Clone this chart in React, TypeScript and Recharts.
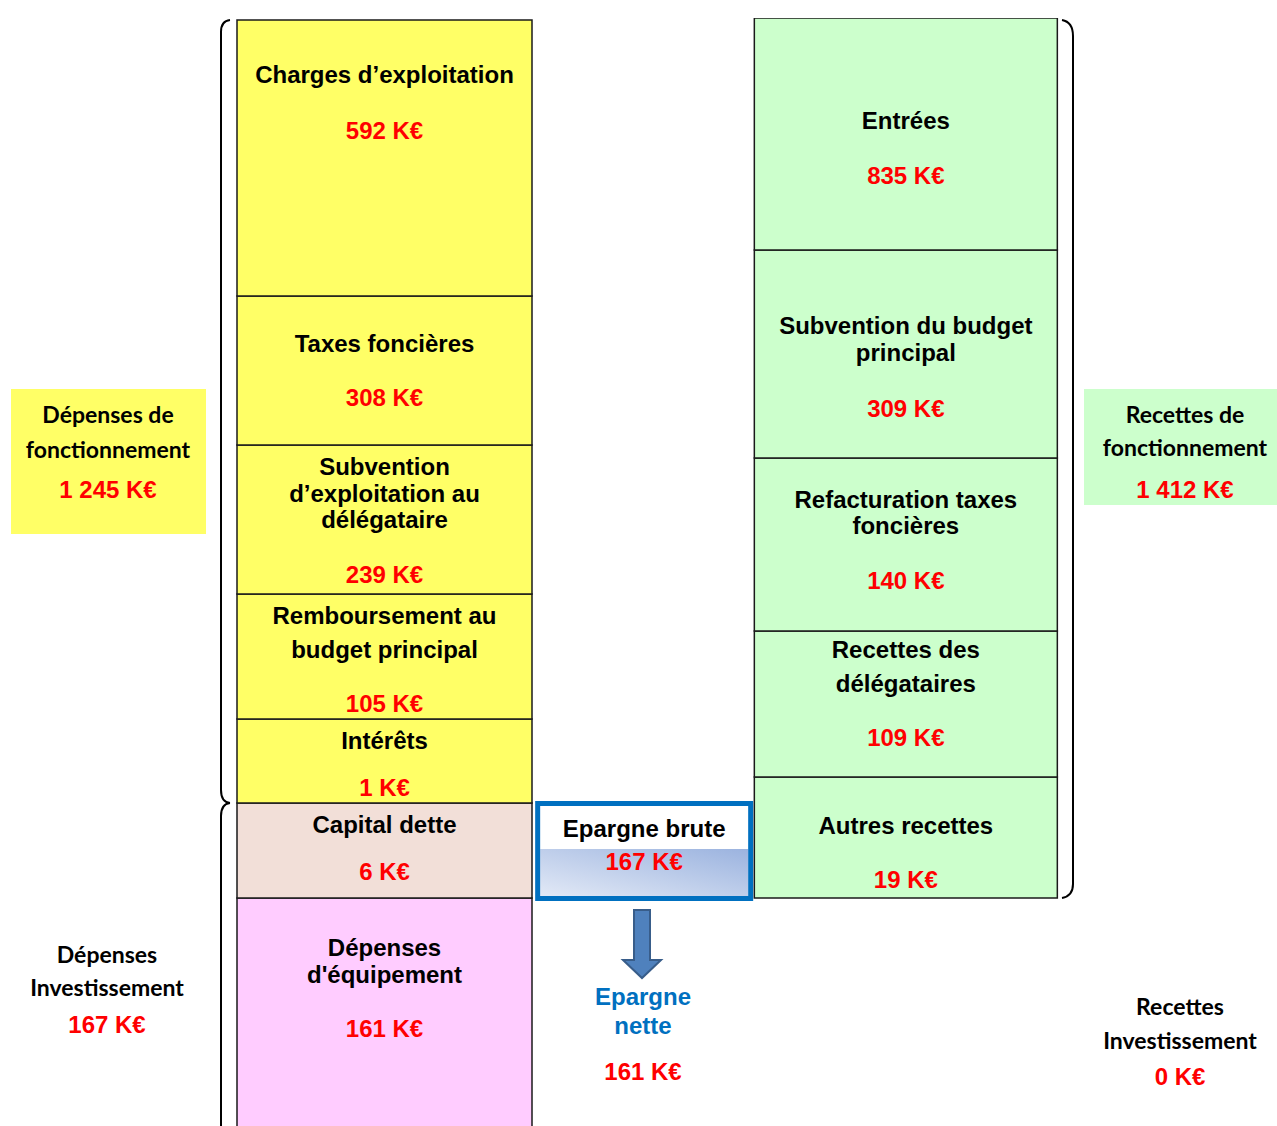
import React from "react";
import { BarChart, Bar, XAxis, YAxis } from "recharts";

// ---------- DATA ----------
const columns = ["Dépenses", "Epargne brute", "Recettes"];

// Dépenses column, listed from bottom to top of the stack
const depensesTitles = [
  ["Dépenses", "d'équipement"],
  ["Capital dette"],
  ["Intérêts"],
  ["Remboursement au", "budget principal"],
  ["Subvention", "d’exploitation au", "délégataire"],
  ["Taxes foncières"],
  ["Charges d’exploitation"],
];
const depensesAmounts = [161, 6, 1, 105, 239, 308, 592];
// drawn block sizes (not proportional to the amounts)
const depensesBlocks = [232, 95, 84, 125, 149, 149, 276];

// Recettes column, listed from bottom to top of the stack
const recettesTitles = [
  ["Autres recettes"],
  ["Recettes des", "délégataires"],
  ["Refacturation taxes", "foncières"],
  ["Subvention du budget", "principal"],
  ["Entrées"],
];
const recettesAmounts = [19, 109, 140, 309, 835];
const recettesBlocks = [121, 146, 173, 208, 232];
const recettesOffset = 232;

const epargneBruteAmount = 167;
const epargneOffset = 229;
const epargneBlock = 100;
const epargneNetteAmount = 161;

const depensesFonctionnement = "1 245";
const recettesFonctionnement = "1 412";
const depensesInvestissement = "167";
const recettesInvestissement = "0";

// ---------- TABLE FOR THE LIBRARY ----------
const levels = [0, 1, 2, 3, 4, 5, 6];
const rows = columns.map((name, ci) => {
  const row: Record<string, any> = { name };
  if (ci === 0) depensesBlocks.forEach((v, i) => (row[`s${i}`] = v));
  if (ci === 1) {
    row.s0 = epargneOffset;
    row.s1 = epargneBlock;
  }
  if (ci === 2) {
    row.s0 = recettesOffset;
    recettesBlocks.forEach((v, i) => (row[`s${i + 1}`] = v));
  }
  return row;
});

// ---------- STYLES ----------
const LABEL_FONT = "'Liberation Sans', Arial, Helvetica, sans-serif";
const SIDE_FONT = "Lato, 'Open Sans', sans-serif";
const RED = "#FF0000";
const BLUE = "#0070C0";
const colWidths = [295, 218, 303];
const depFills = ["#FFCCFF", "#F2DFD8", "#FFFF66", "#FFFF66", "#FFFF66", "#FFFF66", "#FFFF66"];
const recFill = "#CCFFCC";
const depTitleOffsets = [[49, 76], [21], [21], [21, 55], [21, 48, 74], [47], [54]];
const depAmountOffsets = [130, 68, 68, 109, 129, 101, 110];
const recTitleOffsets = [[48], [18, 52], [41, 67], [75, 102], [102]];
const recAmountOffsets = [102, 106, 122, 158, 157];
const FS = 24;
const SIDE_FS = 23;

const Block = ({ cx, top, w, h, fill, titles, titleOffsets, amount, amountOffset }: any) => (
  <g>
    <rect x={cx - w / 2} y={top} width={w} height={h} fill={fill} stroke="#1a1a1a" strokeWidth={1.5} />
    {titles.map((t: string, i: number) => (
      <text
        key={i}
        x={cx}
        y={top + titleOffsets[i]}
        textAnchor="middle"
        dominantBaseline="central"
        fontFamily={LABEL_FONT}
        fontWeight="bold"
        fontSize={FS}
        fill="#000"
      >
        {t}
      </text>
    ))}
    <text
      x={cx}
      y={top + amountOffset}
      textAnchor="middle"
      dominantBaseline="central"
      fontFamily={LABEL_FONT}
      fontWeight="bold"
      fontSize={FS}
      fill={RED}
    >
      {`${amount} K€`}
    </text>
  </g>
);

const makeShape = (level: number) => (props: any) => {
  const { x, y, width, height, index } = props;
  if (height == null || isNaN(height) || height <= 0) return <g />;
  const cx = x + width / 2;
  if (index === 0) {
    return (
      <Block
        cx={cx}
        top={y}
        w={colWidths[0]}
        h={height}
        fill={depFills[level]}
        titles={depensesTitles[level]}
        titleOffsets={depTitleOffsets[level]}
        amount={depensesAmounts[level]}
        amountOffset={depAmountOffsets[level]}
      />
    );
  }
  if (index === 1) {
    if (level !== 1) return <g />;
    const w = colWidths[1];
    const left = cx - 1 - w / 2;
    const ccx = cx - 1;
    const split = y + 48;
    return (
      <g>
        <rect x={left + 5} y={y + 5} width={w - 10} height={split - y - 5} fill="#FFFFFF" />
        <rect x={left + 5} y={split} width={w - 10} height={y + height - 5 - split} fill="url(#epGrad)" />
        <rect x={left + 2.5} y={y + 2.5} width={w - 5} height={height - 5} fill="none" stroke={BLUE} strokeWidth={5} />
        <text x={ccx} y={y + 27} textAnchor="middle" dominantBaseline="central" fontFamily={LABEL_FONT} fontWeight="bold" fontSize={FS} fill="#000">
          Epargne brute
        </text>
        <text x={ccx} y={y + 60} textAnchor="middle" dominantBaseline="central" fontFamily={LABEL_FONT} fontWeight="bold" fontSize={FS} fill={RED}>
          {`${epargneBruteAmount} K€`}
        </text>
      </g>
    );
  }
  if (level === 0) return <g />;
  const k = level - 1;
  return (
    <Block
      cx={cx}
      top={y}
      w={colWidths[2]}
      h={height}
      fill={recFill}
      titles={recettesTitles[k]}
      titleOffsets={recTitleOffsets[k]}
      amount={recettesAmounts[k]}
      amountOffset={recAmountOffsets[k]}
    />
  );
};

const SideText = ({ x, y, children, fill = "#000", font = SIDE_FONT, size = SIDE_FS }: any) => (
  <text x={x} y={y} textAnchor="middle" dominantBaseline="central" fontFamily={font} fontWeight="bold" fontSize={size} fill={fill}>
    {children}
  </text>
);

const Overlay = () => (
  <svg width={1277} height={1126} style={{ position: "absolute", left: 0, top: 0, pointerEvents: "none" }}>
    {/* braces */}
    <path d="M 230 20 Q 221 21 221 32 L 221 790 Q 221 802 230 803" fill="none" stroke="#000" strokeWidth={2} />
    <path d="M 230 803 Q 221 804 221 816 L 221 1130" fill="none" stroke="#000" strokeWidth={2} />
    <path d="M 1062 20 Q 1073 22 1073 36 L 1073 884 Q 1073 896 1062 898" fill="none" stroke="#000" strokeWidth={2} />

    {/* Dépenses de fonctionnement */}
    <rect x={11} y={389} width={195} height={145} fill="#FFFF66" />
    <SideText x={108} y={414}>Dépenses de</SideText>
    <SideText x={108} y={449}>fonctionnement</SideText>
    <SideText x={108} y={489} fill={RED} font={LABEL_FONT} size={FS}>{`${depensesFonctionnement} K€`}</SideText>

    {/* Recettes de fonctionnement */}
    <rect x={1084} y={389} width={193} height={116} fill="#CCFFCC" />
    <SideText x={1185} y={414}>Recettes de</SideText>
    <SideText x={1185} y={447}>fonctionnement</SideText>
    <SideText x={1185} y={489} fill={RED} font={LABEL_FONT} size={FS}>{`${recettesFonctionnement} K€`}</SideText>

    {/* Dépenses Investissement */}
    <SideText x={107} y={954}>Dépenses</SideText>
    <SideText x={107} y={987}>Investissement</SideText>
    <SideText x={107} y={1024} fill={RED} font={LABEL_FONT} size={FS}>{`${depensesInvestissement} K€`}</SideText>

    {/* Recettes Investissement */}
    <SideText x={1180} y={1006}>Recettes</SideText>
    <SideText x={1180} y={1040}>Investissement</SideText>
    <SideText x={1180} y={1076} fill={RED} font={LABEL_FONT} size={FS}>{`${recettesInvestissement} K€`}</SideText>

    {/* Epargne nette arrow + labels */}
    <path
      d="M 634 910 L 650 910 L 650 960 L 661 960 L 642 978 L 623 960 L 634 960 Z"
      fill="#4F81BD"
      stroke="#385D8A"
      strokeWidth={2}
      strokeLinejoin="miter"
    />
    <SideText x={643} y={996} fill={BLUE} font={LABEL_FONT} size={FS}>Epargne</SideText>
    <SideText x={643} y={1025} fill={BLUE} font={LABEL_FONT} size={FS}>nette</SideText>
    <SideText x={643} y={1071} fill={RED} font={LABEL_FONT} size={FS}>{`${epargneNetteAmount} K€`}</SideText>
  </svg>
);

export default function App() {
  return (
    <div style={{ position: "absolute", left: 0, top: 0, width: 1277, height: 1126, overflow: "hidden", background: "#fff" }}>
      <BarChart
        width={1277}
        height={1140}
        data={rows}
        margin={{ top: 18, right: 241, bottom: 10, left: 254 }}
        barCategoryGap={0}
        barGap={0}
      >
        <defs>
          <linearGradient id="epGrad" x1="1" y1="0" x2="0" y2="1">
            <stop offset="0%" stopColor="#9BB3DF" />
            <stop offset="100%" stopColor="#E2E9F6" />
          </linearGradient>
        </defs>
        <XAxis dataKey="name" hide />
        <YAxis type="number" domain={[0, 1112]} hide allowDataOverflow />
        {levels.map((lv) => (
          <Bar key={lv} dataKey={`s${lv}`} stackId="a" isAnimationActive={false} shape={makeShape(lv)} />
        ))}
      </BarChart>
      <Overlay />
    </div>
  );
}
